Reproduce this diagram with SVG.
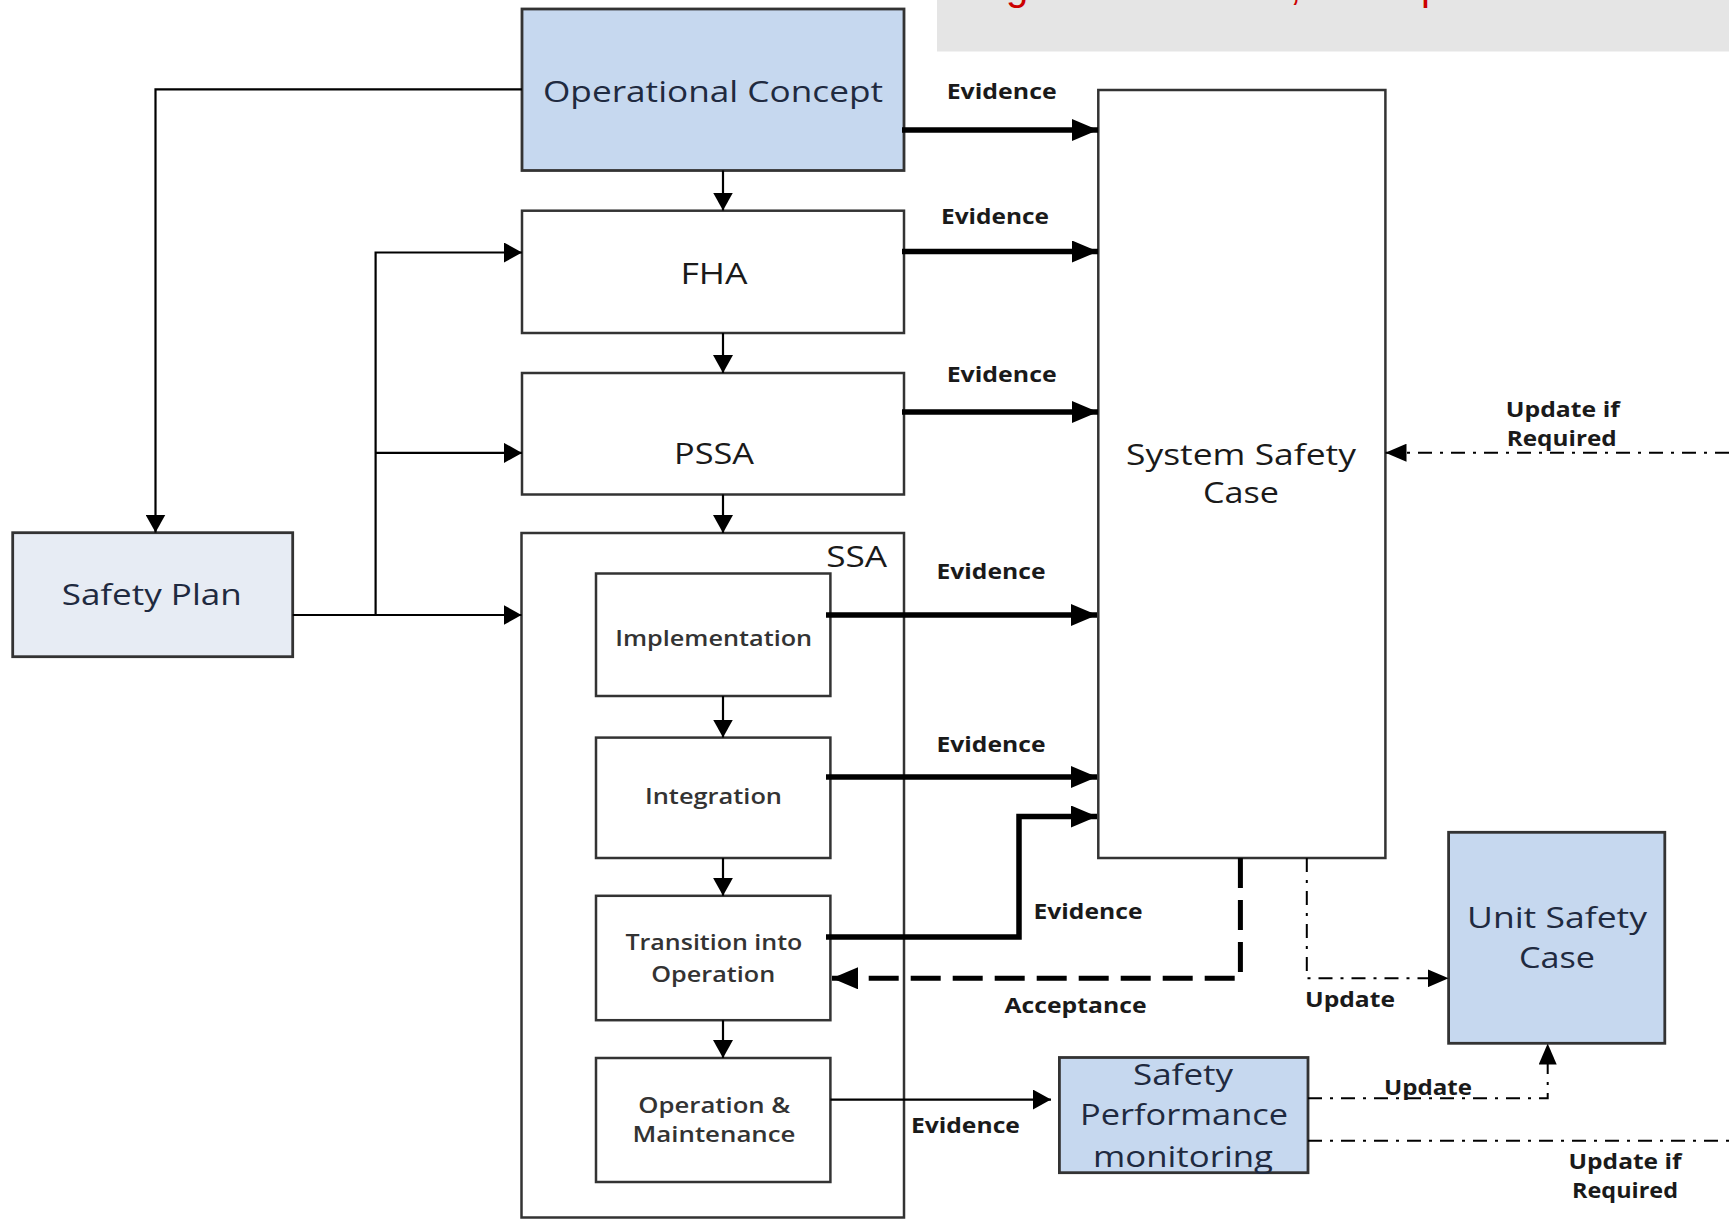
<svg xmlns="http://www.w3.org/2000/svg" width="1729" height="1219" viewBox="0 0 1729 1219">
<style>
  .box { fill: #ffffff; stroke: #333333; stroke-width: 2.5; }
  .blue { fill: #c6d8ef; stroke: #333333; stroke-width: 2.8; }
  .pale { fill: #e7ecf4; stroke: #333333; stroke-width: 2.8; }
  .big { font-family: "Open Sans", "Liberation Sans", sans-serif; font-size: 30px; font-weight: 500; fill: #1f2a40; text-anchor: middle; }
  .mid { font-family: "Open Sans", "Liberation Sans", sans-serif; font-size: 30px; font-weight: 500; fill: #1a1a1a; text-anchor: middle; }
  .inner { font-family: "Open Sans", "Liberation Sans", sans-serif; font-size: 21px; font-weight: 600; fill: #333333; text-anchor: middle; }
  .lbl { font-family: "Open Sans", "Liberation Sans", sans-serif; font-size: 21px; font-weight: bold; fill: #1a1a1a; text-anchor: middle; }
  .thin { fill: none; stroke: #000000; stroke-width: 2.2; }
  .thick { fill: none; stroke: #000000; stroke-width: 5.5; }
  .dash { fill: none; stroke: #000000; stroke-width: 5; stroke-dasharray: 30 12; }
  .dashdot { fill: none; stroke: #000000; stroke-width: 2; stroke-dasharray: 14 8 3 8; }
  .red { font-family: "Liberation Sans", sans-serif; font-size: 40px; fill: #cc0000; }
</style>
<defs>
  <marker id="aThin" markerUnits="userSpaceOnUse" markerWidth="18" markerHeight="20" refX="18" refY="10" orient="auto">
    <path d="M0,0 L18,10 L0,20 z" fill="#000"/>
  </marker>
  <marker id="aThick" markerUnits="userSpaceOnUse" markerWidth="26" markerHeight="22" refX="26" refY="11" orient="auto">
    <path d="M0,0 L26,11 L0,22 z" fill="#000"/>
  </marker>
  <marker id="aMed" markerUnits="userSpaceOnUse" markerWidth="21" markerHeight="18" refX="21" refY="9" orient="auto">
    <path d="M0,0 L21,9 L0,18 z" fill="#000"/>
  </marker>
</defs>

<rect width="1729" height="1219" fill="#ffffff"/>

<g id="header">
  <rect x="937" y="0" width="792" height="51.5" fill="#e5e5e5"/>
  <text class="red" x="1006" y="0">g</text>
  <text class="red" x="1290" y="0">,</text>
  <text class="red" x="1421" y="0">p</text>
</g>

<g id="operational-concept">
  <rect class="blue" x="522" y="9" width="382" height="161.5"/>
  <text class="big" x="713" y="101.7" textLength="340" lengthAdjust="spacingAndGlyphs">Operational Concept</text>
</g>

<g id="fha">
  <rect class="box" x="522" y="210.7" width="382" height="122.3"/>
  <text class="mid" x="714" y="284" textLength="67" lengthAdjust="spacingAndGlyphs">FHA</text>
</g>

<g id="pssa">
  <rect class="box" x="522" y="373" width="382" height="121.5"/>
  <text class="mid" x="714" y="464" textLength="80" lengthAdjust="spacingAndGlyphs">PSSA</text>
</g>

<g id="ssa">
  <rect class="box" x="521.5" y="533" width="382.5" height="684.5"/>
  <text class="mid" x="856.7" y="566.8" textLength="61" lengthAdjust="spacingAndGlyphs">SSA</text>
</g>

<g id="implementation">
  <rect class="box" x="596" y="573.5" width="234.4" height="122.5"/>
  <text class="inner" x="713.7" y="645.5" textLength="197" lengthAdjust="spacingAndGlyphs">Implementation</text>
</g>

<g id="integration">
  <rect class="box" x="596" y="737.6" width="234.4" height="120.4"/>
  <text class="inner" x="713.5" y="804" textLength="137" lengthAdjust="spacingAndGlyphs">Integration</text>
</g>

<g id="transition">
  <rect class="box" x="596" y="895.8" width="234.4" height="124.4"/>
  <text class="inner" x="713.9" y="950" textLength="177" lengthAdjust="spacingAndGlyphs">Transition into</text>
  <text class="inner" x="713.2" y="982" textLength="124" lengthAdjust="spacingAndGlyphs">Operation</text>
</g>

<g id="operation-maintenance">
  <rect class="box" x="596" y="1058" width="234.4" height="124"/>
  <text class="inner" x="714.3" y="1113" textLength="152" lengthAdjust="spacingAndGlyphs">Operation &amp;</text>
  <text class="inner" x="714" y="1142" textLength="163" lengthAdjust="spacingAndGlyphs">Maintenance</text>
</g>

<g id="safety-plan">
  <rect class="pale" x="12.7" y="532.7" width="280" height="124"/>
  <text class="big" x="151.7" y="605" textLength="180" lengthAdjust="spacingAndGlyphs">Safety Plan</text>
</g>

<g id="system-safety-case">
  <rect class="box" x="1098.3" y="90" width="287.1" height="768"/>
  <text class="mid" x="1241" y="465" textLength="230" lengthAdjust="spacingAndGlyphs">System Safety</text>
  <text class="mid" x="1241" y="503" textLength="76" lengthAdjust="spacingAndGlyphs">Case</text>
</g>

<g id="unit-safety-case">
  <rect class="blue" x="1448.6" y="832.3" width="216.2" height="211"/>
  <text class="big" x="1557" y="928" textLength="180" lengthAdjust="spacingAndGlyphs">Unit Safety</text>
  <text class="big" x="1557" y="968" textLength="76" lengthAdjust="spacingAndGlyphs">Case</text>
</g>

<g id="safety-performance-monitoring">
  <rect class="blue" x="1059.4" y="1057.5" width="248.6" height="115.2"/>
  <text class="big" x="1183" y="1085" textLength="100" lengthAdjust="spacingAndGlyphs">Safety</text>
  <text class="big" x="1184" y="1125" textLength="208" lengthAdjust="spacingAndGlyphs">Performance</text>
  <text class="big" x="1183" y="1166.5" textLength="180" lengthAdjust="spacingAndGlyphs">monitoring</text>
</g>

<g id="connectors">
  <!-- Operational Concept to Safety Plan -->
  <path class="thin" d="M522,89.3 H155.5 V532.5" marker-end="url(#aThin)"/>
  <!-- vertical chain -->
  <path class="thin" d="M723,170.5 V210.5" marker-end="url(#aThin)"/>
  <path class="thin" d="M723,333 V373" marker-end="url(#aThin)"/>
  <path class="thin" d="M723,494.5 V533" marker-end="url(#aThin)"/>
  <path class="thin" d="M723,696 V737.5" marker-end="url(#aThin)"/>
  <path class="thin" d="M723,858 V895.8" marker-end="url(#aThin)"/>
  <path class="thin" d="M723,1020.2 V1058" marker-end="url(#aThin)"/>
  <!-- Safety Plan feeds -->
  <path class="thin" d="M292.7,615 H521.5" marker-end="url(#aThin)"/>
  <path class="thin" d="M375.6,615 V252.5 H522" marker-end="url(#aThin)"/>
  <path class="thin" d="M375.6,452.9 H522" marker-end="url(#aThin)"/>
  <!-- Evidence thick arrows -->
  <path class="thick" d="M902,130 H1098" marker-end="url(#aThick)"/>
  <path class="thick" d="M902,251.5 H1098" marker-end="url(#aThick)"/>
  <path class="thick" d="M902,412 H1098" marker-end="url(#aThick)"/>
  <path class="thick" d="M826,615 H1097" marker-end="url(#aThick)"/>
  <path class="thick" d="M826,777 H1097" marker-end="url(#aThick)"/>
  <path class="thick" d="M826,937 H1019 V816.5 H1097" marker-end="url(#aThick)"/>
  <!-- O&M to SPM -->
  <path class="thin" d="M830.4,1099.6 H1051" marker-end="url(#aThin)"/>
  <!-- Acceptance -->
  <path class="dash" d="M1240.4,858 V978.3 H832" marker-end="url(#aThick)"/>
  <!-- Update SSC to USC -->
  <path class="dashdot" d="M1306.8,858 V978.3 H1448.6" marker-end="url(#aMed)"/>
  <!-- Update SPM to USC -->
  <path class="dashdot" d="M1308,1098.3 H1547.7 V1043.5" marker-end="url(#aMed)"/>
  <!-- Update if Required (bottom) -->
  <path class="dashdot" d="M1308,1140.7 H1729"/>
  <!-- Update if Required (into SSC) -->
  <path class="dashdot" d="M1729,452.7 H1385.5" marker-end="url(#aMed)"/>
  <!-- connector labels -->
  <text class="lbl" x="1001.7" y="98.5" textLength="110" lengthAdjust="spacingAndGlyphs">Evidence</text>
  <text class="lbl" x="995" y="224" textLength="108" lengthAdjust="spacingAndGlyphs">Evidence</text>
  <text class="lbl" x="1001.7" y="382" textLength="110" lengthAdjust="spacingAndGlyphs">Evidence</text>
  <text class="lbl" x="991" y="578.5" textLength="109" lengthAdjust="spacingAndGlyphs">Evidence</text>
  <text class="lbl" x="991" y="751.5" textLength="109" lengthAdjust="spacingAndGlyphs">Evidence</text>
  <text class="lbl" x="1088" y="919" textLength="109" lengthAdjust="spacingAndGlyphs">Evidence</text>
  <text class="lbl" x="965.4" y="1133" textLength="109" lengthAdjust="spacingAndGlyphs">Evidence</text>
  <text class="lbl" x="1075.5" y="1013" textLength="142" lengthAdjust="spacingAndGlyphs">Acceptance</text>
  <text class="lbl" x="1350" y="1007" textLength="90" lengthAdjust="spacingAndGlyphs">Update</text>
  <text class="lbl" x="1428" y="1095" textLength="88" lengthAdjust="spacingAndGlyphs">Update</text>
  <text class="lbl" x="1562.8" y="416.7" textLength="114" lengthAdjust="spacingAndGlyphs">Update if</text>
  <text class="lbl" x="1561.7" y="446" textLength="110" lengthAdjust="spacingAndGlyphs">Required</text>
  <text class="lbl" x="1625" y="1169" textLength="113" lengthAdjust="spacingAndGlyphs">Update if</text>
  <text class="lbl" x="1625" y="1198" textLength="106" lengthAdjust="spacingAndGlyphs">Required</text>
</g>
</svg>
